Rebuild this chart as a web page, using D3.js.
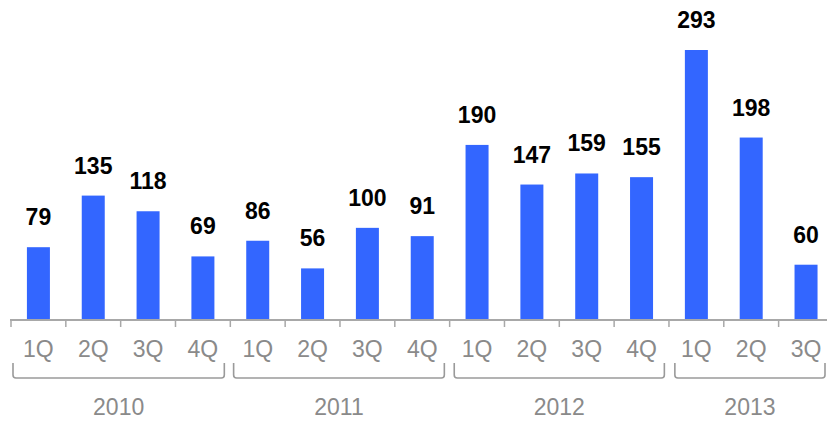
<!DOCTYPE html>
<html><head><meta charset="utf-8">
<script src="https://cdn.jsdelivr.net/npm/d3@7"></script>
<style>body{margin:0;background:#fff;}svg{display:block;font-family:"Liberation Sans",Arial,sans-serif;}</style>
</head><body>
<svg id="c" width="827" height="421"></svg>
<script>
const quarters = ["1Q","2Q","3Q","4Q","1Q","2Q","3Q","4Q","1Q","2Q","3Q","4Q","1Q","2Q","3Q"];
const years = ["2010","2010","2010","2010","2011","2011","2011","2011","2012","2012","2012","2012","2013","2013","2013"];
const values = [79,135,118,69,86,56,100,91,190,147,159,155,293,198,60];
const yearLabels = ["2010","2011","2012","2013"];

const svg = d3.select("#c");
const idx = d3.range(values.length);
const x = d3.scaleBand().domain(idx).range([11, 11 + 15 * 54.83]).paddingInner(0.58).paddingOuter(0.29);
const y = d3.scaleLinear().domain([0, 293]).range([320, 50]);
const step = x.step();
const bandStart = i => 11 + i * step;

// bars
svg.selectAll("rect.bar").data(idx).join("rect")
  .attr("x", i => bandStart(i) + (step - 23) / 2)
  .attr("width", 23)
  .attr("y", i => y(values[i]))
  .attr("height", i => y(0) - y(values[i]))
  .attr("fill", "#3366ff");

// value labels
svg.selectAll("text.val").data(idx).join("text")
  .attr("x", i => bandStart(i) + step / 2)
  .attr("y", i => y(values[i]) - 22)
  .attr("text-anchor", "middle")
  .attr("font-size", 23).attr("font-weight", "bold").attr("fill", "#000")
  .text(i => values[i]);

// axis line
const axisColor = "#a8a8a8";
svg.append("line").attr("x1", 10).attr("x2", 827).attr("y1", 320).attr("y2", 320)
  .attr("stroke", axisColor).attr("stroke-width", 2);
// ticks at band boundaries
svg.selectAll("line.tick").data(d3.range(values.length + 1)).join("line")
  .attr("x1", i => bandStart(i)).attr("x2", i => bandStart(i))
  .attr("y1", 320).attr("y2", 327)
  .attr("stroke", axisColor).attr("stroke-width", 1.5);

// quarter labels
svg.selectAll("text.q").data(idx).join("text")
  .attr("x", i => bandStart(i) + step / 2)
  .attr("y", 357)
  .attr("text-anchor", "middle")
  .attr("font-size", 23).attr("fill", "#8a8a8a")
  .text(i => quarters[i]);

// year brackets
const groups = yearLabels.map((yr, k) => {
  const ids = idx.filter(i => years[i] === yr);
  return {yr, k, start: bandStart(ids[0]), end: bandStart(ids[ids.length - 1] + 1)};
});
const bracketColor = "#9a9a9a";
groups.forEach(g => {
  const x0 = g.start + 2 + 1.3 * g.k;
  const x1 = Math.min(g.end - 6 + 0.7 * g.k, 825);
  const top = 363, bot = 378, r = 3;
  svg.append("path")
    .attr("d", `M${x0},${top} V${bot - r} Q${x0},${bot} ${x0 + r},${bot} H${x1 - r} Q${x1},${bot} ${x1},${bot - r} V${top}`)
    .attr("fill", "none").attr("stroke", bracketColor).attr("stroke-width", 1.6);
  svg.append("text")
    .attr("x", (x0 + x1) / 2).attr("y", 415)
    .attr("text-anchor", "middle").attr("font-size", 23).attr("fill", "#8a8a8a")
    .text(g.yr);
});
</script>
</body></html>
